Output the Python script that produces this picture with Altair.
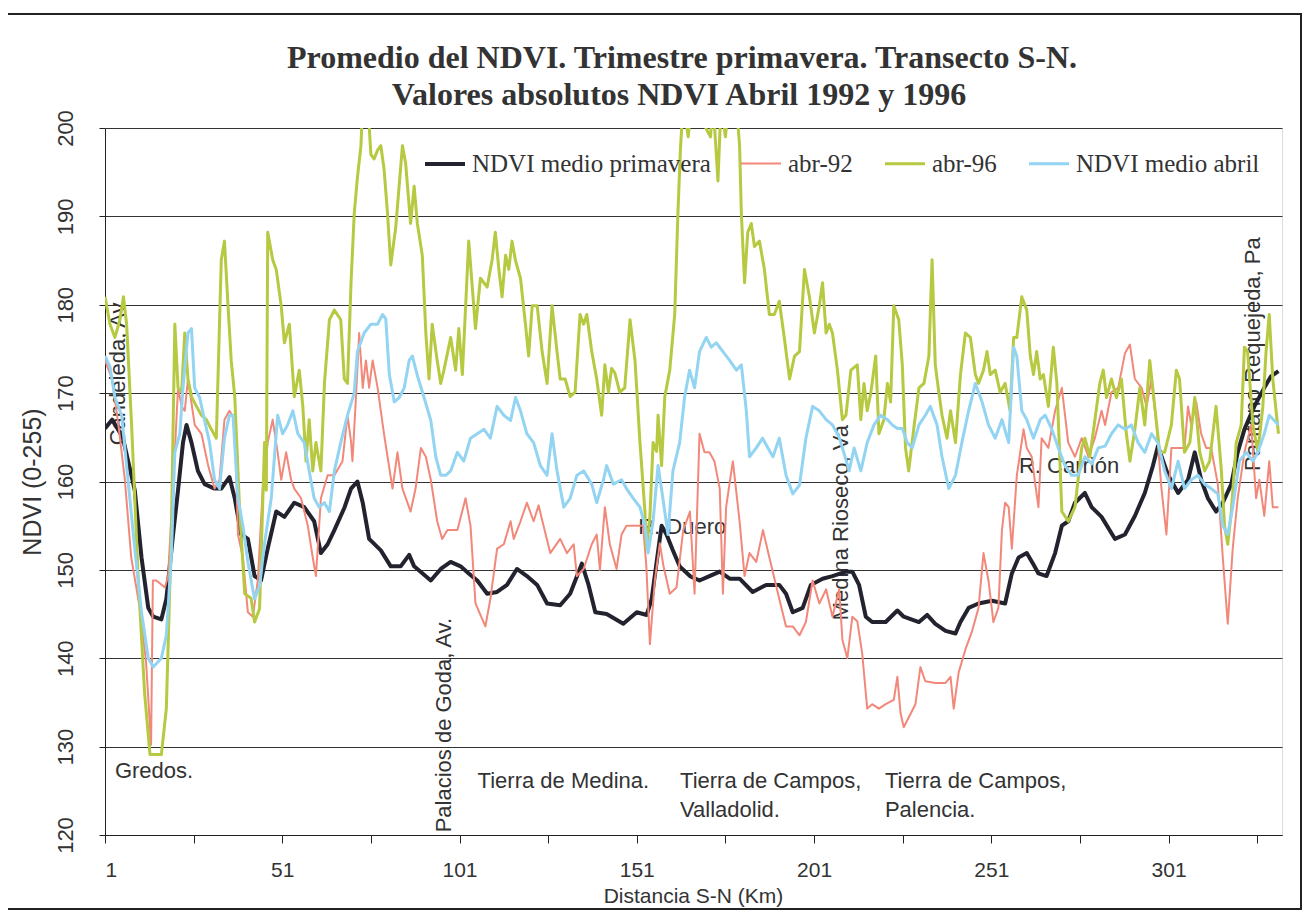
import altair as alt
import pandas as pd

SERIES_NAMES = ["NDVI medio primavera", "abr-92", "abr-96", "NDVI medio abril"]
SERIES_COLORS = ["#23232f", "#f2887a", "#b7c940", "#92d4f1"]
SERIES_WIDTHS = [4, 2, 3, 3]

# (km, NDVI); 203 = above the top of the axis (clipped)
BLACK = [(1,166),(3,167),(6,165),(9.4,159),(11.3,151.4),(13.2,145.7),(14.6,144.7),(16.9,144.4),(18.3,146.7),(20.2,154),(21.6,159),(23,164.4),(24,166.4),(25.4,164.4),(27.2,161.2),(29.1,159.7),(31.9,159.2),(33.8,159.2),(36.1,160.5),(37.6,158.1),(39.4,154),(41.3,153.5),(43.2,149.3),(45,148.8),(46.9,152.4),(49.3,156.6),(51.6,156),(54.4,157.6),(57.2,157.1),(60,155.5),(61.9,151.9),(63.8,152.9),(65.7,154.5),(68.5,157),(70.4,159.2),(72.2,160),(73.7,157.6),(75.5,153.5),(78.8,152.2),(81.6,150.4),(84.4,150.4),(86.8,151.7),(88.2,150.4),(92.9,148.8),(95.7,150.1),(98.5,150.9),(101.3,150.4),(103.6,149.6),(106,148.8),(108.8,147.3),(111.6,147.5),(114.4,148.3),(117.2,150.1),(120,149.3),(122.9,148.3),(125.7,146.2),(129.4,146),(132.2,147.3),(135.5,150.7),(137.4,148.3),(139.3,145.2),(142.5,145),(147.2,143.9),(151,145.2),(153.8,144.9),(155.2,146.7),(156.6,150.9),(158,155),(159.4,154),(161.2,152.2),(163.1,150.4),(166,149.3),(168.7,148.8),(171.5,149.3),(174.4,149.8),(177.2,149),(180,149),(183.7,147.5),(187.5,148.3),(191.2,148.3),(193.1,147.3),(195,145.2),(197.8,145.7),(200.1,148.3),(203.4,149),(206.2,149.3),(210,149.8),(211.8,149.8),(213.7,148.3),(215.6,144.7),(217.4,144.1),(221.2,144.1),(224.5,145.4),(226.3,144.7),(230.6,144.1),(232.9,144.9),(235.2,143.9),(238.1,143.1),(240.9,142.8),(242.3,144.1),(244.6,145.7),(247.4,146.2),(251.2,146.5),(254.9,146.2),(256.8,149.6),(258.7,151.4),(261,151.9),(262.9,150.6),(264.3,149.6),(266.6,149.3),(269,151.9),(270.9,155),(272.7,155.5),(274.6,157.6),(277.4,158.7),(279.3,157.1),(282.1,156),(285.9,153.5),(288.7,154),(291.5,156.1),(294.3,158.7),(296.6,161.8),(298,164),(300.9,160.7),(303.7,158.7),(306.5,160.2),(308.4,163.3),(310.2,160.2),(312.1,158.1),(314.4,156.6),(316.3,157.6),(318.7,159.7),(320.5,163.3),(322.4,165.9),(325.2,168.5),(328,170.6),(329.9,171.9),(332,172.5)]

RED = [(1,173.7),(3,171.6),(4.9,166),(6.6,160.2),(8.4,151.4),(10.8,145.7),(12.6,139.5),(14,130.2),(14.5,148.8),(15.5,148.8),(17.9,148),(18.8,149.3),(20.7,163.3),(21.6,170.6),(22.6,168.5),(23.5,168),(24.4,171.6),(26.3,166.4),(28.2,165.4),(30.1,161.8),(31.9,159.2),(33.3,160.2),(34.7,167),(36.1,168),(37.6,167),(38.5,154),(39.9,151.4),(41.3,145.2),(42.7,144.7),(44.1,148.8),(45.5,159.2),(46.9,164.4),(48.3,167),(49.7,163.3),(50.7,160.2),(52.1,163.3),(53.5,160.2),(54.4,159.2),(56.3,158.1),(58.2,155),(59.6,151.4),(60.5,149.3),(61.9,158.1),(63.8,160.7),(65.7,160.7),(68,162.3),(69.4,167.5),(70.4,164.5),(70.8,162.3),(71.8,169.6),(72.7,176.8),(73.7,170.6),(74.6,173.7),(75.5,170.6),(76.5,173.7),(77.9,170.6),(79.7,165.4),(82.1,159.2),(83.5,163.3),(84.9,159.2),(87.2,156.6),(88.6,159.2),(90.1,163.8),(91.5,162.8),(92.9,160.2),(94.7,155.5),(96.1,153.5),(97.6,154.5),(100.4,154.5),(102.7,158.1),(104.1,155),(105.5,146.2),(108.3,143.6),(109.7,146.7),(111.6,152.4),(113.5,152.9),(115.4,155.5),(116.3,153.5),(118.2,155.5),(120,157.6),(121.9,155.5),(123.3,157.3),(124.7,155),(126.6,151.9),(129.4,153.5),(131.3,151.9),(133.2,152.9),(134.1,149.3),(136,150.1),(138.3,152.9),(139.7,154),(140.6,150),(142,157.1),(143.4,152.9),(145.3,150.1),(146.7,154),(148.1,155),(152.8,155),(153.7,150.4),(154.7,141.6),(156.1,148.8),(157.5,153),(158.5,150.5),(160.3,147.3),(162.2,148),(164.1,154.5),(166,156.6),(167.3,147.3),(168.7,165.4),(170.1,163.3),(171.5,163.3),(172.9,162.3),(174.4,159.2),(175.3,147.3),(176.2,157.1),(178.1,162.3),(180,155.5),(181.4,149.3),(182.8,151.9),(184.7,150.9),(186.6,154.5),(188.4,151.4),(191.2,146.7),(193.1,143.6),(195,143.6),(196.9,142.6),(198.7,144.1),(200.6,148.8),(202.5,146.2),(204.4,147.8),(206.2,144.7),(208.1,147.8),(209,142.1),(210.4,140),(211.8,144.7),(213.2,144.2),(214.6,140.5),(216,134.3),(217.4,134.8),(219.3,134.3),(221.2,134.8),(223.5,135.3),(224.5,137.9),(225.4,133.8),(226.3,132.2),(227.7,133.3),(229.6,134.8),(231,139),(232.4,137.4),(235.2,137.2),(238.1,137.2),(239.5,137.9),(240.4,134.3),(241.8,138.4),(243.7,141),(245.6,143.1),(247.4,145.7),(248.8,151.9),(250.2,148.8),(251.6,144.1),(253,145.7),(254,154.5),(254.9,157.6),(255.9,157.1),(256.8,152.4),(258.2,160.7),(260.1,165.9),(261,163.8),(262.4,162.8),(263.4,159.7),(264.3,157.1),(265.2,164.9),(267.1,163.8),(269,168),(270.9,170.6),(272.7,164.4),(274.6,162.8),(276.5,164.9),(278.4,162.8),(280.2,164.9),(282.1,168),(283.1,166.4),(284.9,170.1),(286.8,170.6),(288.7,174.5),(290.1,175.5),(291.5,171.6),(293.4,170.6),(294.8,168.5),(296.2,171.6),(297.6,166.4),(299,159.2),(300.4,154),(301.8,163.8),(303.7,163.8),(305.5,163.8),(306.5,168.5),(307.4,166.4),(308.8,169),(310.2,165.4),(311.6,163.8),(313,163.8),(314.9,159.7),(316.3,151.4),(317.7,143.9),(319.1,152.4),(320.5,158.1),(322.4,163.3),(324.3,166.4),(325.7,158.1),(326.6,160.2),(328,156.1),(329.4,162.3),(330.4,157.1),(332,157.1)]

GREEN = [(1,180.9),(2.4,177.8),(3.8,176.3),(5.2,178.3),(6.2,180.9),(7.1,177.8),(8.5,166.4),(10.4,148.8),(12.2,135.9),(13.7,129.1),(16.9,129.1),(18.3,134.3),(19.7,154),(20.7,177.8),(21.6,170.6),(22.6,170.1),(23.5,176.8),(24.4,171.6),(25.4,169.6),(26.8,168.5),(28.2,167.5),(29.6,167),(31,165.9),(32.4,164.9),(33.8,185.1),(34.7,187.2),(35.7,179.9),(36.6,173.7),(37.6,169.6),(39,156.6),(40.4,147.3),(42.2,146.8),(43.2,144.1),(44.6,145.6),(46,164.4),(46.5,159),(46.9,188.2),(48.3,185.1),(49.3,184),(50.7,179.9),(51.6,175.7),(53,177.8),(54.4,169.6),(55.8,172.6),(56.8,168.5),(57.7,162.3),(58.6,167),(59.6,161.2),(60.5,164.4),(61.9,161.2),(62.9,171.1),(64.3,178.3),(65.7,179.4),(67.5,178.3),(68.5,171.6),(69.4,171.1),(70.4,182.5),(71.3,190.3),(72.2,194.4),(73.2,198),(73.7,203),(75.1,203),(76,197),(76.9,196.5),(77.9,197.5),(78.8,198),(79.7,195.4),(80.7,190.3),(81.6,184.5),(83,188.7),(84.9,198),(85.8,196),(87.2,189.2),(88.2,193.4),(89.1,189.2),(90.5,185.6),(91.5,176.8),(92.4,171.6),(93.3,177.8),(94.7,173.7),(95.7,171.1),(96.6,172.6),(98.5,176.3),(99.9,172.6),(100.8,177.3),(101.8,172.1),(103.6,187.2),(104.6,182),(105.5,177.3),(106.9,183),(108.8,182),(110.2,185.1),(111.1,188.2),(112.1,184),(113,180.9),(114,185.6),(114.9,184),(115.8,187.2),(116.8,185),(118.2,183),(119.6,177.8),(120.5,174.2),(121.5,179.9),(122.9,179.9),(124.3,174.7),(125.7,171.1),(127.1,179.9),(128.5,174.7),(129.4,171.6),(130.8,171.6),(132.2,169.6),(133.6,170.1),(135,178.9),(136,177.8),(136.9,178.9),(138.3,174.7),(139.7,171.6),(141.1,167.5),(142,173.2),(143,170.1),(143.9,172.8),(144.8,172.3),(146.2,170.1),(147.6,170.6),(149.1,178.3),(150.5,173.7),(151.9,164.4),(153.3,156.6),(153.7,152.4),(154.7,156),(155.6,164.4),(156.6,163.4),(157,167.5),(158,161.8),(158.9,169.6),(160.3,172.6),(161.7,178.9),(162.6,190.3),(163.3,197.5),(164.1,203),(165.5,199),(166.5,203),(171.8,199),(172.5,203),(173.9,194),(174.8,203),(176,199),(177,203),(179,203),(180,198),(180.5,190.3),(181.4,182.5),(182.3,188.2),(183.3,189.2),(184.2,186.6),(185.6,187.2),(187,184),(188.4,178.9),(189.8,178.9),(191.2,180.4),(192.6,176.3),(194.1,171.6),(195.5,174.2),(196.9,174.7),(198.3,184),(199.7,180.9),(201.1,176.8),(202.5,179.9),(203.4,182.5),(204.4,176.8),(205.3,177.8),(206.2,176.8),(207.6,172.6),(209,167),(210,167.5),(211.4,172.6),(213.2,173.2),(214.2,167),(215.1,171.1),(216,168),(217,170),(218.4,174.2),(219.3,165.4),(220.7,167),(221.7,171.1),(222.6,169),(223.5,179.9),(224.9,178.3),(225.9,173.2),(226.8,163.8),(227.7,161.2),(229.1,165.9),(230.6,170.6),(232,171.1),(233.4,174.2),(234.3,185.1),(235.2,173.2),(236.2,170.1),(237.1,167.5),(238.5,164.9),(239.5,168),(240.9,164.4),(242.3,172.1),(243.7,176.8),(245.1,176.3),(246.5,172.1),(247.4,171.1),(248.8,172.6),(249.8,174.7),(250.7,172.1),(252.1,172.6),(253.5,170.1),(254.9,171.1),(256.3,168),(257.3,176.3),(258.2,176.3),(259.6,180.9),(261,179.4),(262,174.2),(262.9,172.1),(263.8,174.7),(264.8,171.6),(265.7,172.1),(267.1,168.5),(268.5,175.2),(269.5,171.1),(270.9,156.6),(272.7,155.5),(274.6,157.1),(276.5,163.8),(277.4,164.9),(278.8,162.8),(280.2,166.9),(281.6,171.1),(282.6,172.6),(283.5,169.5),(284.9,171.6),(286.3,169.5),(287.7,171.6),(289.1,165.4),(290.1,162.3),(291.5,165.9),(292.9,170.6),(294.3,166.4),(295.7,173.7),(297.1,168.5),(298.5,163.3),(299.9,163.3),(301.8,166.4),(303.2,172.6),(304.1,171.6),(305.5,163.3),(307,164.4),(308.4,169.5),(309.8,163.3),(311.2,161.2),(312.6,162.3),(314.4,168.5),(315.9,161.2),(316.8,155),(317.7,152.9),(318.7,156.6),(320.1,164.4),(321.5,166.4),(322.4,175.2),(323.3,174.7),(324.8,166.4),(326.2,163.3),(327.6,168.5),(328.5,174.7),(329.4,178.9),(330.4,171.6),(332,165.4)]

BLUE = [(1,174.2),(2.4,173),(3.8,169.5),(5.7,167.5),(7.6,159.7),(9.4,152.4),(11.3,145.2),(13.2,140),(14.6,139),(16.9,140),(18.3,142.6),(19.7,151.4),(20.7,163.3),(22.1,165.4),(23,170.6),(24.4,176.8),(25.4,177.3),(26.3,170.6),(27.7,169.5),(29.1,166.9),(30.5,164.4),(31.9,160.2),(33.3,159.2),(34.7,164.9),(36.1,167.5),(37.1,167.5),(38.5,158.1),(39.9,155),(41.3,150.9),(43.2,146.7),(44.6,148.2),(46,153),(47.9,158.1),(49.7,167.5),(51.1,165.4),(52.5,166.4),(54,168),(55.4,165.4),(57.2,164.4),(58.6,161.2),(60,158.1),(61.4,157.1),(62.9,157.6),(64.3,156.6),(65.7,161.2),(67.5,164.4),(69.4,167.5),(71.3,170),(72.2,174.7),(74.1,176.8),(76,177.8),(77.9,177.8),(79.3,178.9),(80.2,178.4),(81.2,172.1),(82.6,169),(84,169.5),(85.4,170.6),(86.8,173.7),(87.7,174.2),(89.1,172),(91,169.5),(92.9,166.9),(94.3,162.8),(95.7,160.7),(97.1,160.7),(98.5,161.2),(100.4,163.3),(102.2,162.3),(104.1,164.9),(106,165.4),(107.9,165.9),(109.7,164.9),(111.6,168.5),(113.5,167.5),(115.4,166.9),(116.8,169.5),(118.2,168),(120,165.4),(121.9,164.4),(123.8,161.8),(125.7,160.7),(127.1,165.4),(128.5,161.2),(130.4,157.1),(132.2,158.1),(134.1,160.7),(136,161.2),(138.3,159.7),(139.7,157.6),(141.6,160.2),(142.5,161.8),(144.4,159.7),(146.7,160.2),(148.1,159.2),(150,158.1),(151.9,157.1),(153.3,155),(154.2,151.9),(155.6,155.5),(157,161.8),(158.4,158),(159.8,154),(161.2,161.2),(163.1,164.4),(164.5,169.6),(165.9,172.6),(167.3,170.6),(168.7,174.7),(170.6,176.3),(172,175.2),(173.4,175.7),(175.3,174.7),(177.2,173.7),(179.1,172.6),(180.5,173.2),(181.9,168),(182.8,162.8),(184.7,163.8),(186.5,164.9),(188,163.8),(189.4,162.8),(191.2,164.9),(193.1,160.7),(195,158.6),(196.9,159.6),(198.7,164.9),(200.6,168.5),(202.5,168),(204.4,167),(206.2,166.4),(208.1,165),(209,163.8),(210.9,161.2),(212.3,163.8),(214.2,161.2),(216,164.4),(217.9,166.4),(219.8,167.5),(221.7,167),(223.1,166.4),(224.5,166),(225.9,166),(227.3,164.4),(228.7,163.8),(230.6,166.4),(232.4,167.5),(233.8,168.5),(235.7,166.4),(237.1,162.8),(239,159.2),(240.9,160.7),(242.7,164.4),(244.6,168),(246.5,171.1),(248.4,169),(250.2,166.4),(252.1,164.9),(254,167),(255.9,164.4),(257.3,175.2),(258.2,174.2),(259.6,168),(261,167),(262.9,164.9),(264.8,167),(266.2,167.5),(268,166),(269.9,163.8),(271.8,161.8),(273.7,160.7),(275.5,160.7),(277.4,162.8),(279.3,162),(281.2,163.8),(283.1,164),(284.9,165.4),(286.8,166.4),(288.7,165.9),(290.5,166.4),(292.4,164.4),(294.3,163.3),(296.2,165.4),(298,164.4),(299.9,161.2),(301.8,159.2),(303.7,162.3),(305.5,159.2),(307.4,160.2),(309.3,160.7),(311.2,159.7),(313,159.2),(314.9,158.6),(316.3,155),(317.7,154),(319.1,157.1),(321,162.3),(322.9,163.3),(324.8,162.3),(326.2,163.3),(328,165.4),(329.4,167.5),(332,166.4)]

X_TICKS = [1, 26, 51, 76, 101, 126, 151, 176, 201, 226, 251, 276, 301, 326]
Y_TICKS = [120, 130, 140, 150, 160, 170, 180, 190, 200]

TITLE_LINES = ["Promedio del NDVI. Trimestre primavera. Transecto S-N.",
               "Valores absolutos NDVI Abril 1992 y 1996"]

LABELS_H = [("Gredos.", 3.8, 127.2), ("Tierra de Medina.", 106.1, 126.1),
            ("Tierra de Campos,", 163.2, 126.1), ("Valladolid.", 163.2, 122.8),
            ("Tierra de Campos,", 221.0, 126.1), ("Palencia.", 221.0, 122.8),
            ("R. Duero", 151.4, 154.8), ("R. Carrión", 258.8, 161.8)]
LABELS_V = [("Candeleda, Av", 4.7, 164.1), ("Palacios de Goda, Av.", 96.5, 120.3),
            ("Medina Rioseco, Va", 208.5, 144.3), ("Pantano Requejeda, Pa", 324.9, 161.2)]

rows = []
for name, pts in zip(SERIES_NAMES, [BLACK, RED, GREEN, BLUE]):
    for km, v in pts:
        rows.append({"km": km, "ndvi": v, "serie": name})
df = pd.DataFrame(rows)

lab_h = pd.DataFrame(LABELS_H, columns=["txt", "km", "ndvi"])
lab_v = pd.DataFrame(LABELS_V, columns=["txt", "km", "ndvi"])

W, H = 1177, 707

x_enc = alt.X("km:Q", scale=alt.Scale(domain=[1, 333], nice=False, zero=False),
              axis=alt.Axis(values=X_TICKS, labelExpr="(datum.value - 1) % 50 == 0 ? datum.label : ''",
                            title="Distancia S-N (Km)", grid=False, tickSize=8, tickColor="#222",
                            domainColor="#222", labelFont="Liberation Sans", labelFontSize=21,
                            labelColor="#333", labelPadding=16, labelOverlap=False,
                            titleFont="Liberation Sans", titleFontSize=21, titleFontWeight="normal",
                            titleColor="#333", titleX=588, titleY=50, titleBaseline="top",
                            titleAlign="center"))
y_enc = alt.Y("ndvi:Q", scale=alt.Scale(domain=[120, 200], nice=False, zero=False),
              axis=alt.Axis(values=Y_TICKS, title="NDVI (0-255)", grid=True, gridColor="#333",
                            gridWidth=1, tickSize=6, tickColor="#222", domainColor="#222",
                            labelAngle=270, labelAlign="center", labelBaseline="bottom",
                            labelFont="Liberation Sans", labelFontSize=22, labelColor="#333",
                            labelPadding=22, titleFont="Liberation Sans", titleFontSize=25,
                            titleFontWeight="normal", titleColor="#333", titleAngle=270,
                            titleX=-60, titleY=H / 2, titleAlign="center", titleBaseline="bottom"))
legend_opts = dict(orient="none", legendX=318, legendY=14, direction="horizontal",
                   columns=4, title=None, symbolType="stroke", symbolSize=1600,
                   labelFont="Liberation Serif", labelFontSize=25, labelColor="#333",
                   columnPadding=26, labelOffset=5, padding=0, labelLimit=400)
color_enc = alt.Color("serie:N", scale=alt.Scale(domain=SERIES_NAMES, range=SERIES_COLORS),
                      legend=alt.Legend(**legend_opts))
width_enc = alt.StrokeWidth("serie:N",
                            scale=alt.Scale(type="ordinal", domain=SERIES_NAMES, range=SERIES_WIDTHS),
                            legend=alt.Legend(**legend_opts))

txt_h = alt.Chart(lab_h).mark_text(font="Liberation Sans", fontSize=22, color="#333",
                                   align="left", baseline="middle").encode(
    x=alt.X("km:Q"), y=alt.Y("ndvi:Q"), text="txt:N")
txt_v = alt.Chart(lab_v).mark_text(font="Liberation Sans", fontSize=22, color="#333",
                                   align="left", baseline="middle", angle=270).encode(
    x=alt.X("km:Q"), y=alt.Y("ndvi:Q"), text="txt:N")

layers = [txt_h, txt_v]
for name in SERIES_NAMES:
    layers.append(
        alt.Chart(df).transform_filter(alt.datum.serie == name)
        .mark_line(clip=True, strokeJoin="round")
        .encode(x=x_enc, y=y_enc, color=color_enc, strokeWidth=width_enc)
    )

title_df = pd.DataFrame({"t": TITLE_LINES, "row": [0, 1]})
title1 = alt.Chart(title_df).transform_filter(alt.datum.row == 0).mark_text(
    font="Liberation Serif", fontSize=32, fontWeight="bold", color="#333",
    align="center", baseline="alphabetic").encode(
    x=alt.value(577), y=alt.value(-60), text="t:N")
title2 = alt.Chart(title_df).transform_filter(alt.datum.row == 1).mark_text(
    font="Liberation Serif", fontSize=32, fontWeight="bold", color="#333",
    align="center", baseline="alphabetic").encode(
    x=alt.value(574), y=alt.value(-23), text="t:N")

frame = alt.Chart(title_df).transform_filter(alt.datum.row == 0).mark_rect(
    fill="white", fillOpacity=0, stroke="#222", strokeWidth=2, clip=False).encode(
    x=alt.value(-99), x2=alt.value(1196), y=alt.value(-114), y2=alt.value(781))

chart = alt.layer(frame, *layers, title1, title2).properties(
    width=W, height=H,
    autosize=alt.AutoSizeParams(type="none"),
    padding={"left": 97, "top": 120, "right": 22, "bottom": 76},
).configure_view(stroke="#222", strokeWidth=1).configure(background="white")

chart.save("out.html", embed_options={"renderer": "svg", "actions": False})
